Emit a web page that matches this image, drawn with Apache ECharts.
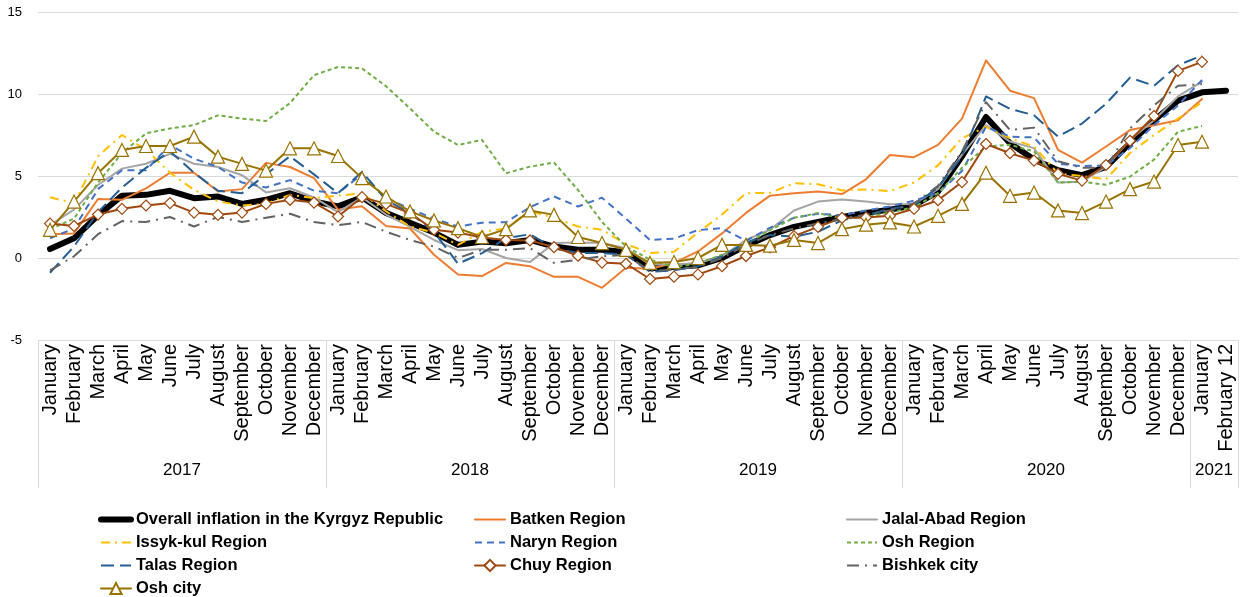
<!DOCTYPE html>
<html><head><meta charset="utf-8">
<script src="https://cdn.jsdelivr.net/npm/echarts@6/dist/echarts.min.js"></script>
<style>html,body{margin:0;padding:0;background:#fff}#c{width:1240px;height:597px}</style>
</head><body><div id="c"></div>
<script>
const months = ['January','February','March','April','May','June','July','August','September','October','November','December'];
const categories = [].concat(months, months, months, months, ['January','February 12']);
const years = ['2017','2018','2019','2020','2021'];
const yearSpans = [12,12,12,12,2];

const overall   = [0.55,1.2,2.6,3.8,3.85,4.1,3.65,3.75,3.3,3.55,3.95,3.45, 3.15,3.7,2.75,2.15,1.55,0.8,1.0,0.9,1.1,0.7,0.5,0.5, 0.35,-0.62,-0.55,-0.45,0.0,0.75,1.4,1.9,2.2,2.5,2.75,2.95, 3.2,4.05,6.2,8.6,7.0,6.0,5.35,5.05,5.55,7.0,8.4,9.6,10.1,10.2];
const batken    = [1.45,1.5,3.6,3.55,4.25,5.2,5.2,4.05,4.2,5.8,5.55,4.87, 2.95,3.15,1.95,1.8,0.2,-1.0,-1.1,-0.3,-0.5,-1.15,-1.15,-1.82, -0.6,-0.65,-0.3,0.4,1.5,2.75,3.8,3.95,4.05,3.9,4.8,6.28, 6.15,6.9,8.5,12.05,10.2,9.75,6.6,5.82,6.8,7.8,8.1,8.4,9.7];
const jalalAbad = [2.0,2.95,4.45,5.45,5.75,6.35,5.75,5.55,5.05,4.0,4.25,3.7, 2.8,3.7,2.65,1.9,1.1,0.48,0.55,0.0,-0.25,0.92,0.95,0.92, 0.6,-0.4,-0.4,-0.3,0.1,1.1,1.72,2.9,3.44,3.57,3.44,3.28, 3.3,4.2,6.3,8.1,7.1,6.7,4.6,4.65,5.55,7.2,8.4,9.85,10.75];
const issykKul  = [3.7,3.35,6.2,7.5,6.6,5.2,4.15,3.45,3.2,3.3,3.85,3.65, 3.8,3.95,2.85,1.92,1.55,0.8,1.6,1.8,2.85,2.45,1.92,1.72, 0.85,0.3,0.38,1.55,2.65,3.95,3.97,4.56,4.5,4.12,4.18,4.08, 4.6,5.65,7.3,8.0,7.3,6.8,5.15,5.0,4.8,6.4,7.5,8.5,9.5];
const naryn     = [1.2,1.8,4.2,5.35,5.35,6.9,6.05,5.55,4.6,4.3,4.75,4.1, 3.95,5.1,3.65,3.0,2.4,1.92,2.15,2.18,3.1,3.75,3.14,3.68, 2.4,1.1,1.18,1.7,1.82,1.05,1.85,2.45,2.7,2.6,2.9,3.14, 3.5,3.95,5.3,8.0,7.4,7.35,5.75,5.6,5.65,6.7,8.1,9.3,10.85];
const oshRegion = [1.75,2.4,4.6,6.4,7.6,7.9,8.1,8.7,8.5,8.35,9.45,11.15, 11.65,11.56,10.48,9.12,7.7,6.89,7.2,5.17,5.57,5.82,4.15,2.2, 0.7,-0.1,-0.55,-0.35,0.2,0.85,1.7,2.45,2.74,2.4,2.5,2.77, 3.1,3.95,5.5,6.8,6.9,6.5,4.6,4.66,4.46,4.96,6.0,7.7,8.05];
const talas     = [-0.9,0.7,2.8,4.3,5.5,6.5,5.2,4.1,3.95,5.1,6.2,5.1, 3.95,5.25,3.55,2.74,1.6,-0.35,0.3,1.2,1.45,0.6,0.3,0.3, 0.2,-0.85,-0.75,-0.5,0.1,0.95,1.4,1.3,1.6,2.3,2.6,3.0, 3.2,4.3,6.2,9.85,9.1,8.7,7.4,8.2,9.4,11.0,10.5,11.75,12.35];
const chuy      = [2.1,1.95,2.65,3.0,3.2,3.35,2.77,2.63,2.77,3.3,3.55,3.38, 2.53,3.71,3.3,2.74,1.72,1.55,1.25,1.1,1.07,0.66,0.14,-0.28, -0.35,-1.28,-1.14,-1.0,-0.5,0.12,0.65,1.33,1.9,2.45,2.47,2.57, 3.0,3.52,4.63,6.95,6.39,5.94,5.13,4.72,5.67,7.15,8.66,11.41,11.96];
const bishkek   = [-0.75,0.1,1.45,2.25,2.2,2.5,1.92,2.5,2.2,2.45,2.7,2.2, 2.0,2.2,1.6,1.1,0.7,0.0,0.5,0.5,0.6,-0.3,-0.1,0.1, 0.2,-0.8,-0.7,-0.55,0.0,0.8,1.4,1.8,2.1,2.4,2.65,2.9, 3.3,4.4,6.5,9.5,7.8,7.95,5.9,5.5,5.5,7.9,9.3,10.5,10.6];
const oshCity   = [1.72,3.44,5.17,6.59,6.83,6.83,7.4,6.18,5.74,5.33,6.69,6.69, 6.22,4.87,3.75,2.84,2.29,1.82,1.28,1.76,2.9,2.63,1.28,0.91, 0.5,-0.3,-0.25,0.0,0.8,0.8,0.75,1.1,0.91,1.76,2.03,2.17, 1.92,2.57,3.3,5.2,3.79,3.99,2.9,2.74,3.44,4.2,4.66,6.89,7.09];

const FONT = "'Liberation Sans', Arial, sans-serif";

// year group boundaries and centres derived from spans
const bounds = [0];
yearSpans.forEach(s => bounds.push(bounds[bounds.length - 1] + s));
const centres = yearSpans.map((s, i) => bounds[i] + s / 2);
const total = bounds[bounds.length - 1];

function line(name, data, color, width, dash, extra) {
  return Object.assign({
    name, type: 'line', data, xAxisIndex: 0, yAxisIndex: 0,
    symbol: 'none', showSymbol: false,
    lineStyle: { color, width, type: dash || 'solid', cap: dash ? 'butt' : 'round', join: 'round' },
    itemStyle: { color },
    emphasis: { disabled: true }
  }, extra || {});
}

const series = [
  line('Overall inflation in the Kyrgyz Republic', overall, '#000000', 6),
  line('Batken Region', batken, '#ED7D31', 2),
  line('Jalal-Abad Region', jalalAbad, '#A5A5A5', 2),
  line('Issyk-kul Region', issykKul, '#FFC000', 2, [9, 5, 2, 5]),
  line('Naryn Region', naryn, '#4472C4', 2, [7, 5]),
  line('Osh Region', oshRegion, '#70AD47', 2, [4, 3]),
  line('Talas Region', talas, '#255E91', 2, [13, 6]),
  line('Chuy Region', chuy, '#9E480E', 2, null, {
    symbol: 'diamond', showSymbol: true, symbolSize: 11,
    itemStyle: { color: '#FFFFFF', borderColor: '#9E480E', borderWidth: 1.2 }
  }),
  line('Bishkek city', bishkek, '#636363', 2, [12, 6, 2, 6]),
  line('Osh city', oshCity, '#997300', 2, null, {
    symbol: 'triangle', showSymbol: true, symbolSize: 13,
    itemStyle: { color: '#FFFFFF', borderColor: '#997300', borderWidth: 1.2 }
  })
];

const withMarker = ['Chuy Region', 'Osh city'];
const seriesWidth = {};
series.forEach(s => { seriesWidth[s.name] = s.lineStyle.width; });
const legendText = { fontFamily: FONT, fontWeight: 'bold', fontSize: 16.5, color: '#000' };
function legendCol(left, names) {
  return {
    orient: 'vertical', left, top: 511, padding: 0,
    itemWidth: 30, itemHeight: 14, itemGap: 6, selectedMode: false,
    textStyle: legendText,
    data: names.map(n => {
      const item = { name: n, lineStyle: { width: seriesWidth[n] } };
      if (withMarker.indexOf(n) < 0) item.itemStyle = { opacity: 0 };
      return item;
    })
  };
}

const option = {
  animation: false,
  backgroundColor: '#ffffff',
  grid: { left: 38, right: 2, top: 12, bottom: 257, containLabel: false },
  legend: [
    legendCol(98, ['Overall inflation in the Kyrgyz Republic', 'Issyk-kul Region', 'Talas Region', 'Osh city']),
    legendCol(474, ['Batken Region', 'Naryn Region', 'Chuy Region']),
    legendCol(846, ['Jalal-Abad Region', 'Osh Region', 'Bishkek city'])
  ],
  xAxis: [
    {
      type: 'category', data: categories, boundaryGap: true, position: 'bottom',
      axisLine: { show: true, lineStyle: { color: '#D9D9D9', width: 1 } },
      axisTick: { show: false },
      axisLabel: { rotate: 90, interval: 0, margin: 4, fontSize: 20, fontFamily: FONT, color: '#000' }
    },
    {
      type: 'value', min: 0, max: total, position: 'bottom',
      axisLine: { show: false },
      splitLine: { show: false },
      axisTick: { show: true, inside: false, length: 148, customValues: bounds,
                  lineStyle: { color: '#D9D9D9', width: 1 } },
      axisLabel: { show: true, customValues: centres, margin: 122, fontSize: 17,
                   fontFamily: FONT, color: '#000',
                   formatter: v => { const i = centres.indexOf(v); return i >= 0 ? years[i] : ''; } }
    }
  ],
  yAxis: {
    type: 'value', min: -5, max: 15, interval: 5,
    axisLine: { show: false }, axisTick: { show: false },
    splitLine: { lineStyle: { color: '#D9D9D9', width: 1 } },
    axisLabel: { fontSize: 13, fontFamily: FONT, color: '#000', margin: 16 }
  },
  series
};

const chart = echarts.init(document.getElementById('c'), null, { renderer: 'canvas' });
chart.setOption(option);
</script>
</body></html>
